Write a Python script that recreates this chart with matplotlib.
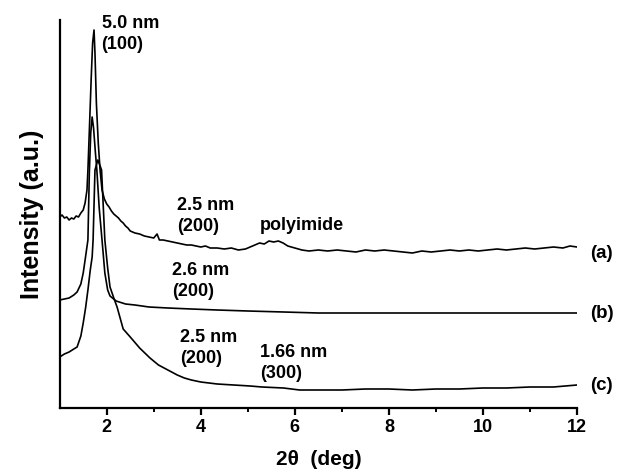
import matplotlib
matplotlib.use("Agg")
import matplotlib.pyplot as plt
from matplotlib.ticker import FixedLocator

plt.rcParams['font.family'] = ['Liberation Sans', 'DejaVu Sans']

# ---- data (2theta in deg, intensity in arbitrary units) ----
a_x = [1.00, 1.05, 1.10, 1.15, 1.20, 1.25, 1.30, 1.35, 1.40, 1.45, 1.50, 1.54, 1.58, 1.60,
       1.64, 1.67, 1.70, 1.73, 1.75, 1.78, 1.82, 1.86, 1.90, 1.95, 2.00, 2.05, 2.10, 2.15,
       2.20, 2.25, 2.30, 2.35, 2.40, 2.45, 2.50, 2.55, 2.60, 2.70, 2.80, 2.90, 3.00, 3.07,
       3.12, 3.20, 3.30, 3.40, 3.50, 3.60, 3.70, 3.80, 3.90, 4.00, 4.10, 4.20, 4.35, 4.50,
       4.65, 4.80, 4.95, 5.05, 5.15, 5.25, 5.35, 5.45, 5.55, 5.65, 5.75, 5.85, 6.00, 6.15,
       6.30, 6.50, 6.70, 6.90, 7.10, 7.30, 7.50, 7.70, 7.90, 8.10, 8.30, 8.50, 8.70, 8.90,
       9.10, 9.30, 9.50, 9.70, 9.90, 10.10, 10.30, 10.50, 10.70, 10.90, 11.10, 11.30, 11.50,
       11.70, 11.85, 12.00]
a_y = [191, 193, 190, 191, 188, 190, 189, 192, 191, 195, 198, 205, 218, 238,
       290, 330, 365, 378, 355, 305, 265, 237, 218, 209, 204, 201, 197, 194,
       192, 190, 187, 185, 182, 180, 177, 176, 175, 174, 172, 171, 170, 174,
       168, 168, 167, 166, 165, 164, 163, 163, 162, 161, 162, 160, 160, 159,
       160, 158, 159, 161, 163, 165, 164, 167, 166, 167, 165, 162, 160, 158,
       157, 158, 157, 158, 157, 156, 158, 157, 158, 157, 156, 155, 157, 156,
       157, 158, 157, 158, 157, 158, 159, 158, 159, 160, 159, 160, 161,
       160, 162, 161]

b_x = [1.00, 1.10, 1.20, 1.30, 1.37, 1.45, 1.50, 1.54, 1.60, 1.63, 1.66, 1.69, 1.72, 1.76,
       1.79, 1.84, 1.90, 1.96, 2.02, 2.07, 2.20, 2.40, 2.60, 2.90, 3.30, 3.80, 4.35, 5.00,
       5.76, 6.50, 7.20, 8.00, 9.00, 10.00, 11.00, 12.00]
b_y = [108, 109, 110, 113, 116, 124, 135, 148, 168, 235, 275, 291, 280, 255,
       238, 200, 168, 135, 118, 112, 107, 104, 103, 101, 100, 99, 98, 97,
       96, 95, 95, 95, 95, 95, 95, 95]

c_x = [1.00, 1.10, 1.20, 1.30, 1.37, 1.45, 1.50, 1.55, 1.60, 1.65, 1.69, 1.71, 1.75, 1.81,
       1.86, 1.89, 1.96, 2.02, 2.07, 2.15, 2.22, 2.35, 2.50, 2.70, 2.92, 3.10, 3.30, 3.50,
       3.65, 3.80, 4.00, 4.35, 4.70, 5.05, 5.30, 5.76, 6.10, 6.47, 7.00, 7.50, 8.00, 8.50,
       9.00, 9.50, 10.00, 10.50, 11.00, 11.50, 12.00]
c_y = [51, 54, 56, 59, 61, 72, 85, 100, 118, 138, 151, 168, 238, 248,
       242, 238, 168, 140, 121, 110, 101, 79, 71, 60, 50, 43, 38, 33,
       30, 28, 26, 24, 23, 22, 21, 20, 18, 18, 18, 19, 19, 18,
       19, 19, 20, 20, 21, 21, 23]

curve_labels = ['(a)', '(b)', '(c)']
curve_label_y = [155, 95, 22]

peak_texts = ['5.0 nm\n(100)', '2.5 nm\n(200)', 'polyimide', '2.6 nm\n(200)',
              '2.5 nm\n(200)', '1.66 nm\n(300)']
peak_text_x = [1.89, 3.50, 5.26, 3.39, 3.56, 5.26]
peak_text_y = [374, 192, 183, 127, 60, 45]

x_ticks = [2, 4, 6, 8, 10, 12]
x_minor = [3, 5, 7, 9, 11]

# ---- figure ----
fig = plt.figure(figsize=(6.18, 4.70), dpi=100)
ax = fig.add_axes([59.7 / 618, 62 / 470, (577 - 59.7) / 618, (408 - 20) / 470])

for xs, ys in [(a_x, a_y), (b_x, b_y), (c_x, c_y)]:
    ax.plot(xs, ys, color='black', lw=1.2)

ax.set_xlim(1, 12)
ax.set_ylim(0, 388)

for s in ['top', 'right']:
    ax.spines[s].set_visible(False)
for s in ['left', 'bottom']:
    ax.spines[s].set_linewidth(1.6)

ax.xaxis.set_major_locator(FixedLocator(x_ticks))
ax.xaxis.set_minor_locator(FixedLocator(x_minor))
ax.tick_params(axis='x', which='major', direction='out', length=5, width=1.6,
               labelsize=13, pad=3)
ax.tick_params(axis='x', which='minor', direction='out', length=3, width=1.4)
for lab in ax.get_xticklabels():
    lab.set_fontweight('bold')
ax.set_yticks([])

ax.set_xlabel('2θ  (deg)', fontsize=15, fontweight='bold', labelpad=10)
ax.set_ylabel('Intensity (a.u.)', fontsize=18, fontweight='bold', labelpad=11)

for t, x, y in zip(peak_texts, peak_text_x, peak_text_y):
    ax.text(x, y, t, fontsize=13, fontweight='bold', ha='left', va='center',
            linespacing=1.3)

for t, y in zip(curve_labels, curve_label_y):
    ax.text(12.28, y, t, fontsize=13.5, fontweight='bold', ha='left', va='center',
            clip_on=False)

fig.savefig('out.png', dpi=100)
